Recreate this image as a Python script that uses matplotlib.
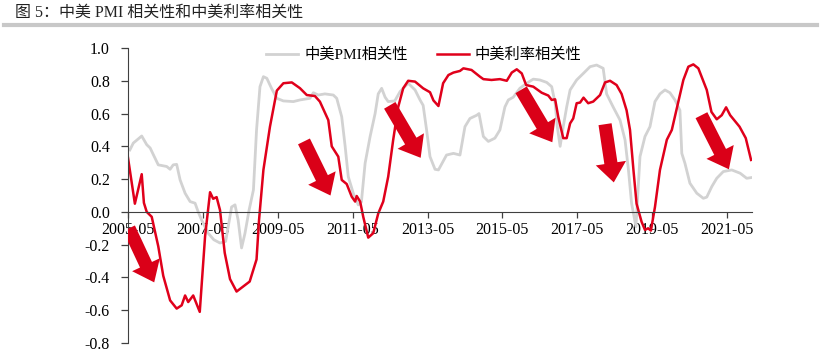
import matplotlib
matplotlib.use("Agg")
import matplotlib.pyplot as plt
from matplotlib.patches import FancyArrowPatch
from matplotlib.lines import Line2D

# x values: months since 2005-05
tick_pos = [0, 24, 48, 72, 96, 120, 144, 168, 192]
tick_labels = ["2005-05", "2007-05", "2009-05", "2011-05", "2013-05",
               "2015-05", "2017-05", "2019-05", "2021-05"]

pmi_m = [0.6, 1.7, 4.4, 6, 7.1, 8.1, 9.7, 12.4, 13.5, 14.5, 15.6, 16.7, 18.3, 19.9,
         21.5, 22.5, 23.6, 25.7, 27.5, 29.5, 31.3, 33.2, 34.3, 35.3, 36.4, 37.5, 38.8,
         40.2, 41.2, 42.3, 43.4, 44.5, 46, 47.7, 49.8, 53, 55.1, 58.3, 59.4, 61, 63.1,
         65.8, 66.9, 68.5, 69.6, 70.6, 72.2, 73.8, 74.8, 76, 77.6, 79.2, 80.2, 81.3,
         82.4, 83.4, 85.5, 87.2, 89.8, 92, 93.6, 94.6, 95.7, 96.8, 98.4, 99.5, 102.1,
         104.3, 106.4, 108, 109.6, 111.8, 112.5, 113.9, 115.5, 117.6, 119.2, 120.8,
         121.9, 123.5, 125.6, 127.8, 129.9, 132, 134.2, 135.8, 136.9, 137.6, 138.5,
         139.5, 140.6, 141.7, 143.8, 146, 148.1, 150.2, 152.3, 153.4, 155.5, 157.7,
         159.3, 160.4, 161.4, 162.8, 164.1, 165.7, 167.3, 168.9, 170.5, 172.1, 173.7,
         175.3, 176.9, 177.5, 178.5, 180.1, 182.3, 184.4, 185.5, 187.1, 188.7, 190.8,
         193.5, 196.2, 198.3, 200]
pmi_v = [0.378, 0.42, 0.463, 0.41, 0.39, 0.35, 0.287, 0.277, 0.26, 0.287, 0.29, 0.195,
         0.114, 0.063, 0.053, 0.0, -0.05, -0.13, -0.17, -0.19, -0.18, 0.03, 0.043,
         -0.05, -0.22, -0.13, 0.01, 0.134, 0.5, 0.764, 0.825, 0.815, 0.754, 0.693,
         0.677, 0.673, 0.683, 0.693, 0.727, 0.713, 0.72, 0.713, 0.693, 0.58, 0.4,
         0.215, 0.114, 0.043, 0.06, 0.297, 0.46, 0.60, 0.72, 0.754, 0.70, 0.673,
         0.677, 0.734, 0.785, 0.744, 0.683, 0.65, 0.5, 0.337, 0.26, 0.256, 0.347,
         0.357, 0.347, 0.52, 0.57, 0.59, 0.6, 0.46, 0.43, 0.45, 0.5, 0.64, 0.683,
         0.70, 0.754, 0.785, 0.81, 0.805, 0.79, 0.764, 0.663, 0.52, 0.40, 0.52, 0.64,
         0.744, 0.805, 0.846, 0.886, 0.896, 0.876, 0.72, 0.64, 0.56, 0.44, 0.256,
         0.053, -0.09, 0.337, 0.46, 0.52, 0.673, 0.72, 0.744, 0.727, 0.683, 0.62,
         0.357, 0.297, 0.175, 0.114, 0.083, 0.09, 0.154, 0.205, 0.246, 0.256, 0.236,
         0.205, 0.21]

rate_m = [0, 2.2, 4.4, 5.1, 6, 7.6, 9.7, 11.3, 13.5, 15.6, 17.2, 18.3, 19.3, 20.9, 23,
          24.7, 26.3, 27.3, 28.4, 29.5, 31, 32.7, 34.8, 39, 41.2, 42.0, 43.4, 45.5,
          47.7, 49.8, 52.5, 55.1, 57.3, 59.9, 61.5, 64.2, 65.3, 67.4, 68.5, 70.1, 71.7,
          72.8, 73.3, 74.4, 75.4, 77, 78.6, 80.2, 81.8, 83.4, 85, 86.6, 88.2, 89.8, 92,
          94.6, 96.8, 97.9, 99.5, 101, 102.7, 104.3, 106.4, 107.5, 110.1, 112.8, 113.9,
          116.5, 119.2, 121.4, 123, 124.6, 126.2, 127.6, 129.9, 132.6, 134.7, 135.8,
          136.9, 137.9, 139.5, 140.6, 141.7, 142.7, 143.8, 144.9, 146, 147.5, 149.1,
          151.3, 152.9, 154.5, 156.6, 158.2, 159.8, 160.9, 162, 163, 164.6, 165.7,
          166.7, 167.6, 168.9, 170.5, 172.7, 174.3, 176.4, 178, 179.6, 181.2, 182.8,
          185.5, 187, 188.7, 190.3, 191.7, 193, 196, 198, 199.7]
rate_v = [0.33, 0.05, 0.23, 0.055, 0.0, -0.03, -0.21, -0.39, -0.54, -0.59, -0.57, -0.51,
          -0.55, -0.51, -0.61, -0.15, 0.12, 0.08, 0.09, 0.01, -0.25, -0.41, -0.486,
          -0.425, -0.29, -0.05, 0.256, 0.52, 0.74, 0.785, 0.79, 0.755, 0.713, 0.707,
          0.673, 0.56, 0.40, 0.337, 0.195, 0.17, 0.093, 0.063, 0.097, 0.063, -0.03,
          -0.157, -0.13, -0.01, 0.063, 0.215, 0.44, 0.64, 0.754, 0.80, 0.795, 0.754,
          0.73, 0.68, 0.646, 0.785, 0.835, 0.85, 0.86, 0.876, 0.866, 0.825, 0.81,
          0.805, 0.81, 0.80, 0.85, 0.87, 0.845, 0.774, 0.764, 0.727, 0.71, 0.683,
          0.687, 0.58, 0.45, 0.45, 0.54, 0.57, 0.663, 0.667, 0.697, 0.663, 0.673,
          0.713, 0.79, 0.80, 0.774, 0.72, 0.62, 0.5, 0.256, 0.05, -0.06, -0.11, -0.10,
          -0.114, 0.03, 0.256, 0.44, 0.5, 0.673, 0.805, 0.886, 0.90, 0.876, 0.744,
          0.61, 0.565, 0.59, 0.638, 0.59, 0.52, 0.45, 0.317]

# annotation arrows: (tail_m, tail_v, tip_m, tip_v)
arrows = [(0.3, -0.10, 8.4, -0.43),
          (56.4, 0.43, 64.9, 0.10),
          (83.9, 0.65, 93.8, 0.33),
          (126.0, 0.745, 136.0, 0.425),
          (152.9, 0.535, 155.7, 0.18),
          (183.8, 0.59, 192.6, 0.26)]

RED = "#E0001B"
ARROW_RED = "#DA0018"
GRAY = "#D2D2D2"
SERIF_CJK = ["Liberation Serif", "Noto Sans CJK SC"]

fig = plt.figure(figsize=(8.21, 3.58), dpi=100)
ax = fig.add_axes([128 / 821, 1 - 343 / 358, 624 / 821, 295 / 358])

ax.plot(pmi_m, pmi_v, color=GRAY, lw=2.0, label="中美PMI相关性", solid_joinstyle="round")
ax.plot(rate_m, rate_v, color=RED, lw=1.8, label="中美利率相关性", solid_joinstyle="round")

for (x0, y0, x1, y1) in arrows:
    p = FancyArrowPatch((x0, y0), (x1, y1),
                        arrowstyle="simple,head_length=14,head_width=22,tail_width=9.5",
                        mutation_scale=1, color=ARROW_RED, lw=0, shrinkA=0, shrinkB=0,
                        zorder=5)
    ax.add_patch(p)

ax.set_xlim(0, 200)
ax.set_ylim(-0.8, 1.0)
ax.set_yticks([-0.8, -0.6, -0.4, -0.2, 0.0, 0.2, 0.4, 0.6, 0.8, 1.0])
ax.set_yticklabels([f"{v:.1f}" for v in ax.get_yticks()])
ax.set_xticks(tick_pos)
ax.set_xticklabels(tick_labels)

for s in ["top", "right"]:
    ax.spines[s].set_visible(False)
ax.spines["bottom"].set_position(("data", 0))
ax.spines["bottom"].set_color("#404040")
ax.spines["left"].set_color("#404040")
ax.tick_params(axis="y", direction="out", length=5, width=0.9, pad=8, color="#404040",
               labelsize=11.5)
ax.tick_params(axis="x", direction="out", length=4, width=0.9, pad=3, color="#404040",
               labelsize=11.5)
for lab in ax.get_xticklabels() + ax.get_yticklabels():
    lab.set_fontfamily("Liberation Serif")

leg = ax.legend(loc="center", bbox_to_anchor=(0.474, 0.976), ncol=2, frameon=False,
                handlelength=2.1, handletextpad=0.4, columnspacing=1.9,
                prop={"family": SERIF_CJK, "size": 11})

fig.text(15 / 821, 1 - 13 / 358, "图 5：中美 PMI 相关性和中美利率相关性",
         fontsize=11.5, family=SERIF_CJK, va="center", ha="left", color="#222222")
fig.add_artist(Line2D([4 / 821, 817 / 821], [1 - 25 / 358, 1 - 25 / 358],
                      color="#C8C8C8", lw=3, transform=fig.transFigure))

fig.savefig("out.png", dpi=100)
